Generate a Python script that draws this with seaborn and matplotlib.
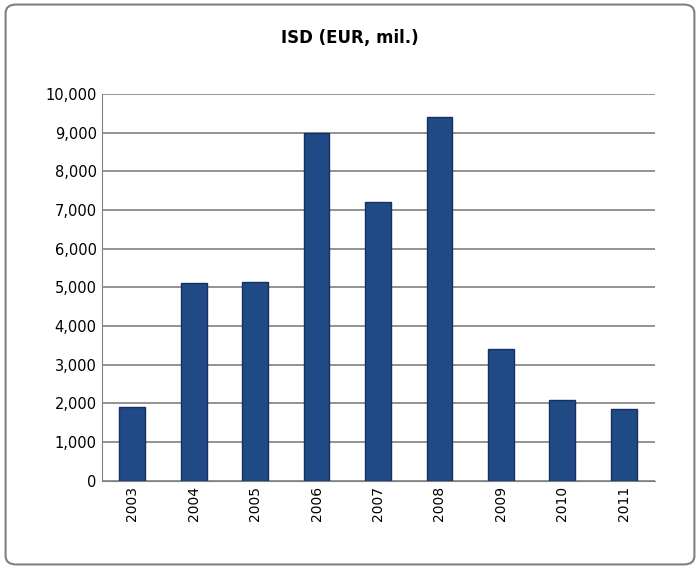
import matplotlib
matplotlib.use("Agg")
import matplotlib.pyplot as plt
import seaborn as sns
import pandas as pd
from matplotlib.patches import FancyBboxPatch

years = ["2003", "2004", "2005", "2006", "2007", "2008", "2009", "2010", "2011"]
values = [1900, 5100, 5150, 9000, 7200, 9400, 3400, 2100, 1850]
yticks = list(range(0, 10001, 1000))

df = pd.DataFrame({"year": years, "value": values})
fig = plt.figure(figsize=(7, 5.69), dpi=100)
ax = fig.add_axes([0.145, 0.155, 0.79, 0.68])
sns.barplot(data=df, x="year", y="value", color="#1F4A85", saturation=1, width=0.42, ax=ax,
            edgecolor="#16305F", linewidth=1, zorder=3)
ax.set_ylim(0, 10000)
ax.set_yticks(yticks)
ax.set_yticklabels([f"{v:,}" for v in yticks], fontsize=10.5)
ax.tick_params(axis="x", rotation=90, labelsize=10, length=0)
ax.tick_params(axis="y", length=0)
ax.grid(axis="y", color="#808080", linewidth=1.2, zorder=0)
ax.set_xlabel("")
ax.set_ylabel("")
for s in ["top", "right"]:
    ax.spines[s].set_visible(False)
ax.spines["left"].set_color("#808080")
ax.spines["bottom"].set_color("#808080")
fig.text(0.5, 0.925, "ISD (EUR, mil.)", ha="center", fontsize=12, fontweight="bold")
fig.patches.append(FancyBboxPatch((0.008, 0.008), 0.984, 0.984, boxstyle="round,pad=0,rounding_size=0.015",
                                  transform=fig.transFigure, fill=False, edgecolor="#808080", linewidth=1.5))
fig.savefig("out.png", dpi=100)
